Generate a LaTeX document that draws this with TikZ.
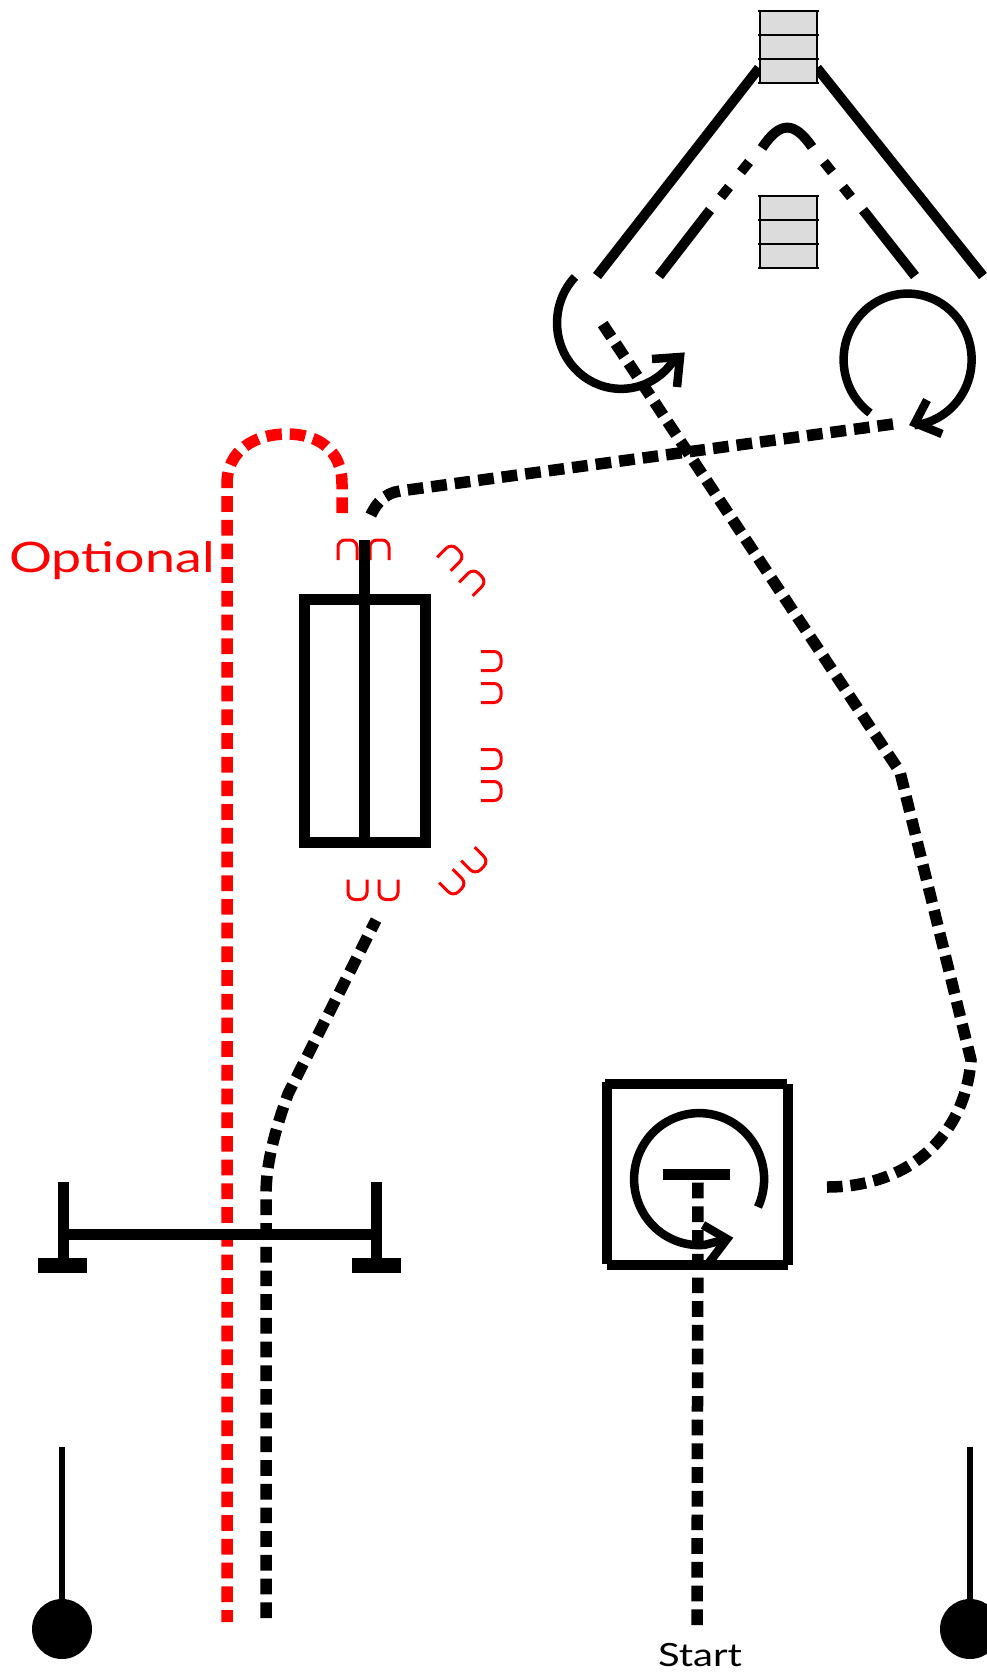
\documentclass[tikz,border=0pt]{standalone}
\usepackage{fontspec}
\newfontfamily\markfont{Lato}
\usetikzlibrary{arrows.meta}
\definecolor{drumgray}{HTML}{DCDCDC}

\tikzset{
	wall/.style={line width=10pt},
	rope/.style={line width=11.5pt, dash pattern=on 15.7pt off 8pt},
	heavy/.style={line width=11pt},
	turn/.style={line width=8.5pt, miter limit=10},
	hook/.pic={\draw[red, line width=3pt, rounded corners=7pt] (-9.5,10) -- (-9.5,-10) -- (9.5,-10) -- (9.5,10);},
	drum/.pic={
		\fill[drumgray] (-28.5,0) rectangle (28.5,72);
		\draw[line width=2.5pt] (-28.5,0) -- (-28.5,72) (28.5,0) -- (28.5,72);
		\foreach \h in {0,24,48,72}
		{	\draw[line width=2pt] (-30.5,\h) -- (30.5,\h);}
	}
}

\begin{document}
\begin{tikzpicture}[x=1pt,y=-1pt]
			\useasboundingbox (0,0) rectangle (987,1673);
			\clip (0,0) rectangle (987,1673);

			% chute
			\coordinate (ol0) at (597,276);
			\coordinate (ol1) at (759,68);
			\coordinate (or0) at (983,276);
			\coordinate (or1) at (817,68);
			\coordinate (il0) at (659,276);
			\coordinate (il1) at (710,210);
			\coordinate (ir0) at (915,276);
			\coordinate (ir1) at (863,210);
			\coordinate (d1a) at (721,197);
			\coordinate (d1b) at (729,187);
			\coordinate (d2a) at (741,172);
			\coordinate (d2b) at (749,162);
			\coordinate (d3a) at (824,162);
			\coordinate (d3b) at (832,172);
			\coordinate (d4a) at (843,187);
			\coordinate (d4b) at (851,197);
			\coordinate (pk0) at (762,148);
			\coordinate (pk1) at (812,147);

			\def\walls {ol0/ol1, or0/or1}  % outer walls
			\foreach \u\v in \walls
			{	\draw[wall] (\u) -- (\v);}

			\def\inner {il0/il1, ir0/ir1, d1a/d1b, d2a/d2b, d3a/d3b, d4a/d4b}  % inner road
			\foreach \u\v in \inner
			{	\draw[line width=10pt] (\u) -- (\v);}
			\draw[line width=10pt] (pk0) .. controls (780,121) and (794,121) .. (pk1);

			\pic at (788.5,10.7) {drum};
			\pic at (788.5,196) {drum};

			% turning arrows at the top
			\coordinate (la0) at (575,277);
			\coordinate (lh0) at (652,359);
			\coordinate (lh1) at (680,357);
			\coordinate (lh2) at (677,387);
			\draw[turn] (la0) arc[start angle=136, end angle=329, x radius=64pt, y radius=66pt];
			\draw[turn] (lh0) -- (lh1) -- (lh2);

			\coordinate (ra0) at (870,413);
			\coordinate (rh0) at (927,400);
			\coordinate (rh1) at (915,423);
			\coordinate (rh2) at (942,434);
			\draw[turn] (ra0) arc[start angle=234, end angle=-84, x radius=64pt, y radius=66pt];
			\draw[turn] (rh0) -- (rh1) -- (rh2);

			% optional route
			\coordinate (rd0) at (227,1622);
			\coordinate (rd1) at (227,484);
			\coordinate (rd2) at (287,434);
			\coordinate (rd3) at (342,484);
			\coordinate (rd4) at (342,517);
			\draw[rope, red, dash phase=3.7pt] (rd0) -- (rd1) .. controls (227,450) and (255,434) .. (rd2)
				.. controls (318,434) and (342,450) .. (rd3) -- (rd4);
			\node[red, font=\markfont\fontsize{42}{42}\selectfont, xscale=1.28, inner sep=0pt] (optional) at (112,561) {Optional};

			% gate
			\coordinate (gl0) at (63,1182);
			\coordinate (gl1) at (63,1273);
			\coordinate (gr0) at (376,1182);
			\coordinate (gr1) at (376,1273);
			\coordinate (gb0) at (68,1234);
			\coordinate (gb1) at (372,1234);
			\coordinate (fl0) at (38,1265.5);
			\coordinate (fl1) at (87,1265.5);
			\coordinate (fr0) at (352,1265.5);
			\coordinate (fr1) at (401,1265.5);
			\def\gate {gl0/gl1, gr0/gr1, gb0/gb1}
			\foreach \u\v in \gate
			{	\draw[heavy] (\u) -- (\v);}
			\draw[line width=15pt] (fl0) -- (fl1);
			\draw[line width=15pt] (fr0) -- (fr1);

			% marks round the box
			\def\marks {347.5/550/0, 379.5/550/0, 451/557/-45, 473/582/-45, 491/661/-90, 491/693/-90, 491/759/-90, 491/791/-90, 453/883/-135, 475/861/-135, 357.5/889.5/180, 388.5/889.5/180}
			\foreach \x/\y/\r in \marks
			{	\pic[rotate=\r] at (\x,\y) {hook};}

			% box with spindle
			\node[draw, line width=11pt, minimum width=121pt, minimum height=243pt, inner sep=0pt] (cage) at (364.5,720.5) {};
			\coordinate (sp0) at (364,540);
			\draw[heavy] (sp0) -- (sp0 |- cage.south);

			% black route
			\coordinate (bk0) at (266,1618);
			\coordinate (bk1) at (266,1195);
			\coordinate (bk2) at (288,1094);
			\coordinate (bk3) at (376,920);
			\draw[rope] (bk0) -- (bk1) .. controls (266,1160) and (277,1125) .. (bk2) -- (bk3);

			\coordinate (tp0) at (893,424);
			\coordinate (tp1) at (400,491);
			\coordinate (tp2) at (368,522);
			\draw[rope] (tp0) -- (tp1) .. controls (385,493) and (375,503) .. (tp2);

			\coordinate (lg0) at (602,323);
			\coordinate (lg1) at (900,772);
			\coordinate (lg2) at (971,1060);
			\coordinate (lg3) at (827,1187);
			\draw[rope, dash pattern=on 15.6pt off 7.85pt] (lg3) .. controls (910,1187) and (965,1135) .. (lg2) -- (lg1) -- (lg0);

			% start box
			\coordinate (bx0) at (605,1084);
			\coordinate (bx1) at (787,1084);
			\coordinate (bx2) at (607,1082);
			\coordinate (bx3) at (607,1264);
			\coordinate (bx4) at (788,1084);
			\coordinate (bx5) at (788,1265);
			\coordinate (bx6) at (607,1265);
			\coordinate (bx7) at (788,1265);
			\def\square {bx0/bx1, bx2/bx3, bx4/bx5, bx6/bx7}
			\foreach \u\v in \square
			{	\draw[line width=10pt] (\u) -- (\v);}

			\coordinate (tb0) at (663,1174);
			\coordinate (tb1) at (730,1174);
			\draw[heavy] (tb0) -- (tb1);
			\coordinate (st0) at (697,1625);
			\coordinate (st1) at (698,1179);
			\draw[rope] (st0) -- (st1);

			\coordinate (ca0) at (758,1207);
			\coordinate (ch0) at (703,1225);
			\coordinate (ch1) at (727,1239);
			\coordinate (ch2) at (708,1264);
			\draw[turn] (ca0) arc[start angle=-25, end angle=275, x radius=65pt, y radius=66pt] -- (ch1);
			\draw[turn] (ch0) -- (ch1) -- (ch2);

			\node[font=\markfont\fontsize{32}{32}\selectfont, xscale=1.25, inner sep=0pt, anchor=base] (start) at (700,1666) {Start};

			% posts
			\coordinate (pl0) at (62,1447);
			\coordinate (pl1) at (62,1629);
			\coordinate (pr0) at (970,1447);
			\coordinate (pr1) at (970,1629);
			\draw[line width=6pt] (pl0) -- (pl1);
			\draw[line width=6pt] (pr0) -- (pr1);
			\fill (pl1) circle[radius=30pt];
			\fill (pr1) circle[radius=30pt];
		\end{tikzpicture}
\end{document}
